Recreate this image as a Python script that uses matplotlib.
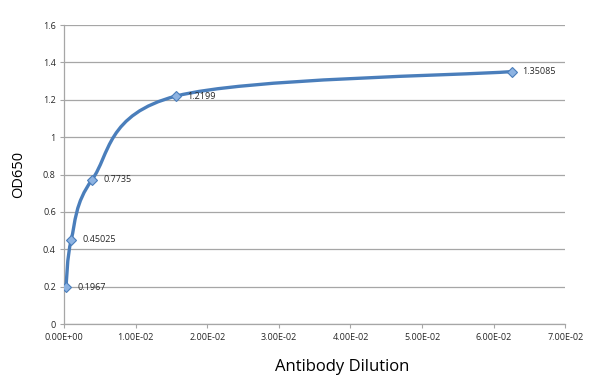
import matplotlib
matplotlib.use('Agg')
import matplotlib.pyplot as plt
from matplotlib.path import Path
import matplotlib.patches as patches
import numpy as np

dilution = [1 / 4096, 1 / 1024, 1 / 256, 1 / 64, 1 / 16]
od650 = [0.1967, 0.45025, 0.7735, 1.2199, 1.35085]
labels = ['0.1967', '0.45025', '0.7735', '1.2199', '1.35085']
xticks = [0, 0.01, 0.02, 0.03, 0.04, 0.05, 0.06, 0.07]
xtick_labels = ['0.00E+00', '1.00E-02', '2.00E-02', '3.00E-02', '4.00E-02',
                '5.00E-02', '6.00E-02', '7.00E-02']
yticks = [0, 0.2, 0.4, 0.6, 0.8, 1, 1.2, 1.4, 1.6]
ytick_labels = ['0', '0.2', '0.4', '0.6', '0.8', '1', '1.2', '1.4', '1.6']

plt.rcParams['font.family'] = ['Open Sans', 'DejaVu Sans']

line_color = '#4a7ebb'
grid_color = '#a6a6a6'


def smooth_path(xs, ys):
    # Excel-like smoothed line: cubic bezier through points (Catmull-Rom)
    pts = np.column_stack([xs, ys])
    n = len(pts)
    verts = [pts[0]]
    codes = [Path.MOVETO]
    for i in range(n - 1):
        p0 = pts[i - 1] if i > 0 else pts[i]
        p1 = pts[i]
        p2 = pts[i + 1]
        p3 = pts[i + 2] if i + 2 < n else pts[i + 1]
        c1 = p1 + (p2 - p0) / 6
        c2 = p2 - (p3 - p1) / 6
        verts += [c1, c2, p2]
        codes += [Path.CURVE4] * 3
    return Path(verts, codes)


fig = plt.figure(figsize=(6, 3.85), dpi=100)
ax = fig.add_axes([0.107, 0.158, 0.835, 0.777])

ax.set_xlim(0, 0.07)
ax.set_ylim(0, 1.6)

patch = patches.PathPatch(smooth_path(dilution, od650), facecolor='none',
                          edgecolor=line_color, lw=2.4, zorder=3,
                          capstyle='round')
ax.add_patch(patch)
ax.plot(dilution, od650, linestyle='none', marker='D', markersize=5.5,
        markerfacecolor='#8db3e2', markeredgecolor='#4a7ebb',
        markeredgewidth=0.8, zorder=4)

for x, y, s in zip(dilution, od650, labels):
    ax.annotate(s, (x, y), xytext=(8, 0), textcoords='offset points',
                va='center', ha='left', fontsize=6.5, color='#262626')

ax.set_xticks(xticks)
ax.set_xticklabels(xtick_labels)
ax.set_yticks(yticks)
ax.set_yticklabels(ytick_labels)
ax.tick_params(axis='x', labelsize=6.5, length=3, color=grid_color,
               colors='#262626', pad=3)
ax.tick_params(axis='y', labelsize=6.5, length=3, color=grid_color,
               colors='#262626', pad=3)
ax.yaxis.grid(True, color=grid_color, lw=0.9)
ax.set_axisbelow(True)

for side in ['top', 'right']:
    ax.spines[side].set_visible(False)
for side in ['left', 'bottom']:
    ax.spines[side].set_color(grid_color)
    ax.spines[side].set_linewidth(0.9)

ax.set_xlabel('Antibody Dilution', fontsize=12)
ax.xaxis.set_label_coords(0.555, -0.115)
ax.set_ylabel('OD650', fontsize=10.5, labelpad=12)

fig.savefig('out.png', dpi=100)
